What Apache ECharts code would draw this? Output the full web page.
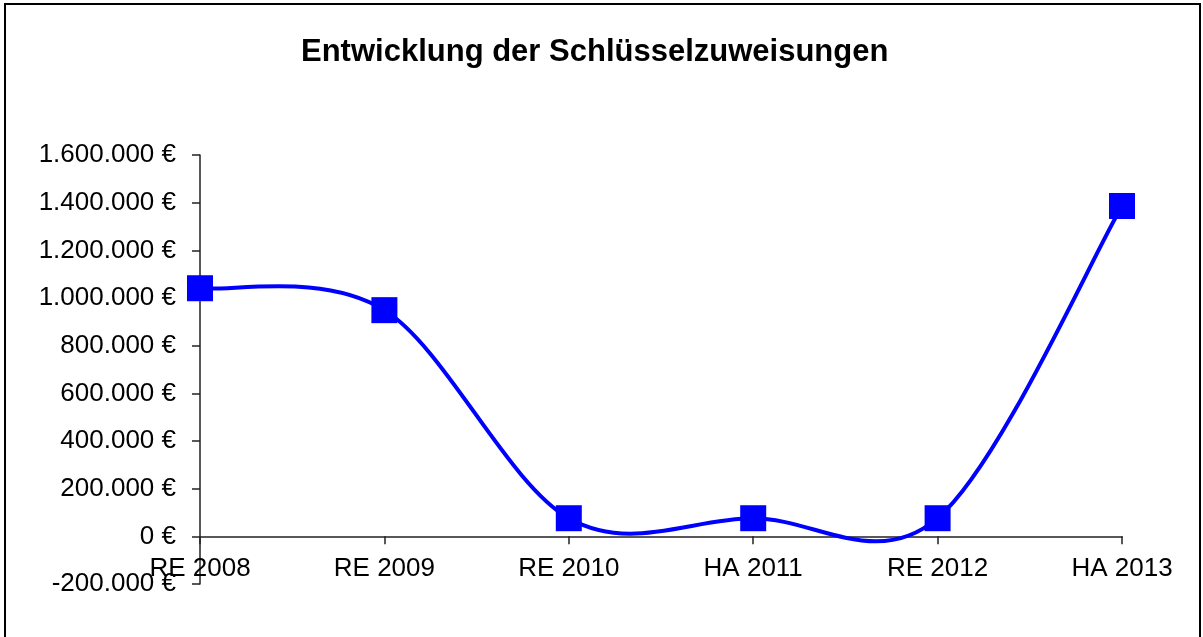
<!DOCTYPE html>
<html>
<head>
<meta charset="utf-8">
<script src="https://cdn.jsdelivr.net/npm/echarts@6/dist/echarts.min.js"></script>
<style>
html, body { margin: 0; padding: 0; background: #fff; }
#main { width: 1203px; height: 637px; }
</style>
</head>
<body>
<div id="main"></div>
<script>
var chartTitle = 'Entwicklung der Schlüsselzuweisungen';
var categories = ['RE 2008', 'RE 2009', 'RE 2010', 'HA 2011', 'RE 2012', 'HA 2013'];
var values = [1041000, 949000, 76000, 76000, 76000, 1386000];
var yMin = -200000, yMax = 1600000, yStep = 200000;

function euro(v) {
    var s = Math.abs(v).toString().replace(/\B(?=(\d{3})+(?!\d))/g, '.');
    return (v < 0 ? '-' : '') + s + ' €';
}

// Excel-like smoothed segment (Catmull-Rom -> Bezier), one segment per data item
function renderSegment(params, api) {
    var i = params.dataIndex;
    var n = values.length;
    if (i >= n - 1) return null;
    function pt(k) {
        k = Math.max(0, Math.min(n - 1, k));
        return api.coord([k, values[k]]);
    }
    var p0 = pt(i - 1), p1 = pt(i), p2 = pt(i + 1), p3 = pt(i + 2);
    var t = 1 / 6;
    return {
        type: 'bezierCurve',
        shape: {
            x1: p1[0], y1: p1[1],
            x2: p2[0], y2: p2[1],
            cpx1: p1[0] + (p2[0] - p0[0]) * t,
            cpy1: p1[1] + (p2[1] - p0[1]) * t,
            cpx2: p2[0] - (p3[0] - p1[0]) * t,
            cpy2: p2[1] - (p3[1] - p1[1]) * t
        },
        style: {fill: 'none', stroke: '#0000FF', lineWidth: 4}
    };
}

var myChart = echarts.init(document.getElementById('main'));

var option = {
    backgroundColor: '#fff',
    animation: false,
    textStyle: {fontFamily: 'Liberation Sans, Arial, sans-serif'},
    title: {
        text: chartTitle,
        left: 296,
        top: 32,
        textStyle: {fontSize: 31, fontWeight: 'bold', color: '#000', fontFamily: 'Liberation Sans, Arial, sans-serif'}
    },
    graphic: [
        {
            type: 'rect',
            shape: {x: 5, y: 4, width: 1195, height: 700},
            style: {fill: 'none', stroke: '#000', lineWidth: 2},
            silent: true
        }
    ],
    grid: {left: 200, right: 81, top: 155, bottom: 53},
    xAxis: {
        type: 'category',
        data: categories,
        boundaryGap: false,
        axisLine: {onZero: true, lineStyle: {color: '#222', width: 1.5}},
        axisTick: {show: true, length: 8, lineStyle: {color: '#222', width: 1.5}},
        axisLabel: {fontSize: 26, color: '#000', margin: -28, interval: 0},
        splitLine: {show: false}
    },
    yAxis: {
        type: 'value',
        min: yMin,
        max: yMax,
        interval: yStep,
        axisLine: {show: true, lineStyle: {color: '#222', width: 1.5}},
        axisTick: {show: true, length: 8, lineStyle: {color: '#222', width: 1.5}},
        axisLabel: {fontSize: 26, color: '#000', margin: 24, formatter: euro},
        splitLine: {show: false}
    },
    series: [
        {
            type: 'custom',
            coordinateSystem: 'cartesian2d',
            renderItem: renderSegment,
            data: values.map(function (v, i) { return [i, v]; }),
            z: 1
        },
        {
            type: 'line',
            data: values,
            symbol: 'rect',
            symbolSize: 26,
            lineStyle: {width: 0, opacity: 0},
            itemStyle: {color: '#0000FF'},
            z: 3
        }
    ]
};
myChart.setOption(option);
</script>
</body>
</html>
